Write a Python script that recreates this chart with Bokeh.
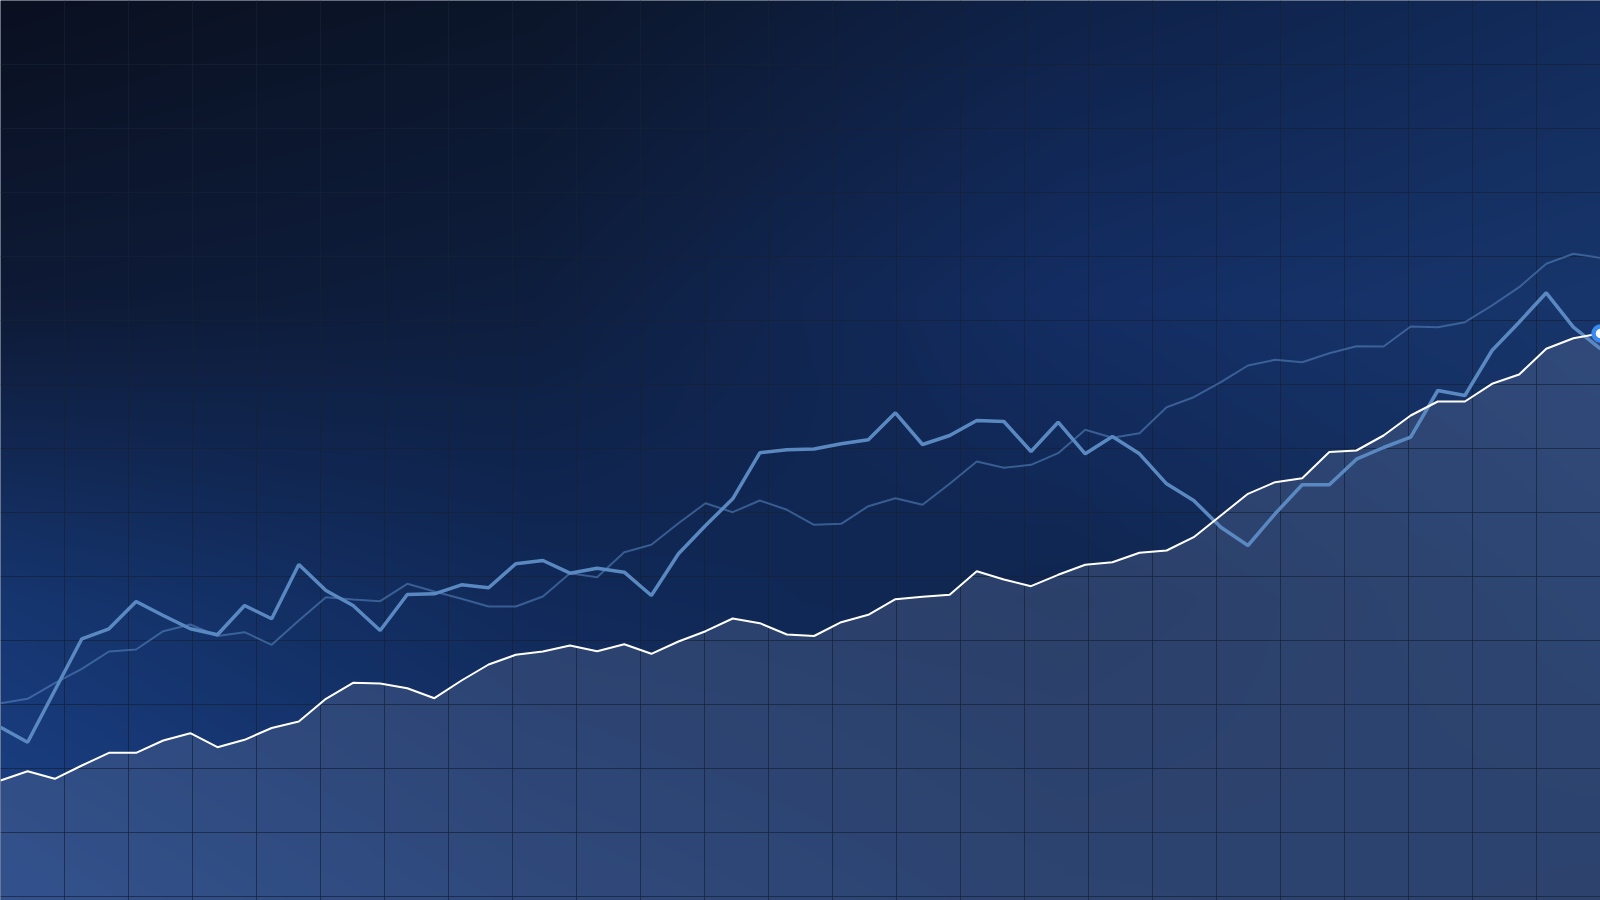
import numpy as np
from bokeh.plotting import figure
from bokeh.models import Range1d, Grid, FixedTicker
from bokeh.embed import file_html
from bokeh.resources import INLINE

# ---------------- data ----------------
days = list(range(60))

price = [120.0, 129.3, 121.7, 135.0, 147.7, 147.7, 160.0, 167.3, 153.3, 160.7,
         172.5, 179.0, 201.7, 217.7, 217.0, 212.3, 202.3, 220.0, 236.0, 245.7,
         249.0, 255.0, 249.3, 256.3, 246.7, 259.0, 269.3, 282.0, 277.3, 266.0,
         264.5, 278.3, 285.7, 301.3, 303.7, 305.7, 329.3, 321.0, 314.3, 325.7,
         335.7, 338.3, 347.7, 350.0, 363.3, 385.0, 406.7, 418.3, 422.3, 448.5,
         450.0, 465.0, 485.0, 499.0, 499.0, 516.7, 526.0, 551.7, 562.3, 567.0]

signal = [173.3, 158.3, 210.0, 261.7, 271.7, 299.0, 285.0, 271.7, 265.7, 295.0,
          281.7, 336.0, 310.0, 295.0, 270.0, 306.0, 306.7, 315.7, 312.7, 336.7,
          340.0, 327.3, 332.3, 328.3, 305.0, 346.7, 375.0, 401.7, 447.7, 450.7,
          451.5, 456.7, 460.7, 487.7, 456.0, 465.0, 480.0, 479.0, 449.0, 478.3,
          446.7, 464.0, 446.7, 416.7, 400.0, 373.3, 355.0, 386.7, 415.7, 415.7,
          441.3, 453.0, 463.3, 510.0, 505.0, 550.0, 578.3, 607.7, 573.3, 551.7]

benchmark = [197.3, 201.7, 217.3, 231.7, 249.0, 251.0, 269.3, 276.0, 264.5, 268.3,
             255.7, 280.0, 303.3, 301.0, 299.3, 316.7, 309.0, 301.7, 294.0, 294.0,
             304.0, 327.3, 323.3, 348.3, 355.7, 377.3, 397.3, 388.3, 400.0, 390.7,
             375.7, 376.7, 394.3, 402.3, 395.7, 416.7, 439.0, 432.7, 435.7, 447.3,
             470.7, 462.7, 467.3, 493.3, 503.3, 518.3, 535.0, 540.7, 538.3, 547.3,
             554.3, 554.0, 574.0, 573.3, 578.3, 595.0, 613.3, 636.7, 646.7, 642.7]

Y_MIN, Y_MAX = 0, 900

# ---------------- figure ----------------
W, H = 1600, 900
p = figure(width=W, height=H, output_backend="svg", toolbar_location=None,
           x_range=Range1d(days[0], days[-1]), y_range=Range1d(Y_MIN, Y_MAX),
           x_axis_type=None, y_axis_type=None, min_border=0)
p.outline_line_color = None
p.background_fill_color = "#0f2042"
p.border_fill_color = "#0f2042"

# ---------------- background gradient (style) ----------------
anch = np.array([
    [[10, 16, 32], [12, 22, 42], [15, 34, 72], [18, 43, 90]],
    [[14, 26, 54], [14, 30, 62], [20, 46, 100], [24, 54, 108]],
    [[22, 54, 112], [17, 42, 90], [16, 38, 80], [20, 48, 96]],
    [[28, 66, 138], [22, 53, 110], [19, 44, 92], [19, 42, 88]],
], dtype=float)
ny, nx = 450, 800
gy = np.linspace(0, 3, ny)
gx = np.linspace(0, 3, nx)
ax_idx = np.arange(4)
rows = np.empty((4, nx, 3))
for r in range(4):
    for c in range(3):
        rows[r, :, c] = np.interp(gx, ax_idx, anch[r, :, c])
bg = np.empty((ny, nx, 3))
for j in range(nx):
    for c in range(3):
        bg[:, j, c] = np.interp(gy, ax_idx, rows[:, j, c])
img = np.zeros((ny, nx), dtype=np.uint32)
view = img.view(dtype=np.uint8).reshape((ny, nx, 4))
view[..., 0] = bg[..., 0].astype(np.uint8)
view[..., 1] = bg[..., 1].astype(np.uint8)
view[..., 2] = bg[..., 2].astype(np.uint8)
view[..., 3] = 255
img = np.ascontiguousarray(img[::-1])
p.image_rgba(image=[img], x=days[0], y=Y_MIN, dw=days[-1] - days[0], dh=Y_MAX - Y_MIN,
             level="image")

# area under the main series
p.varea(x=days, y1=Y_MIN, y2=price, fill_color="#596d94", fill_alpha=0.38, level="image")

# ---------------- square grid ----------------
xt = [64 * k * (days[-1] - days[0]) / W for k in range(1, 25)]
yt = [Y_MAX - 64 * k * (Y_MAX - Y_MIN) / H for k in range(1, 15)]
p.add_layout(Grid(dimension=0, ticker=FixedTicker(ticks=xt),
                  grid_line_color="#162136", grid_line_alpha=0.7, grid_line_width=1,
                  level="underlay"))
p.add_layout(Grid(dimension=1, ticker=FixedTicker(ticks=yt),
                  grid_line_color="#162136", grid_line_alpha=0.7, grid_line_width=1,
                  level="underlay"))

# ---------------- series ----------------
p.line(days, benchmark, line_color="#5a89c2", line_alpha=0.55, line_width=2)
p.line(days, signal, line_color="#5a89c2", line_alpha=1.0, line_width=3.5)
p.line(days, price, line_color="white", line_width=2)
p.scatter([days[-1]], [price[-1]], size=14, fill_color="white",
          line_color="#3b8af0", line_width=4.5)

open("out.html", "w").write(file_html(p, INLINE))
